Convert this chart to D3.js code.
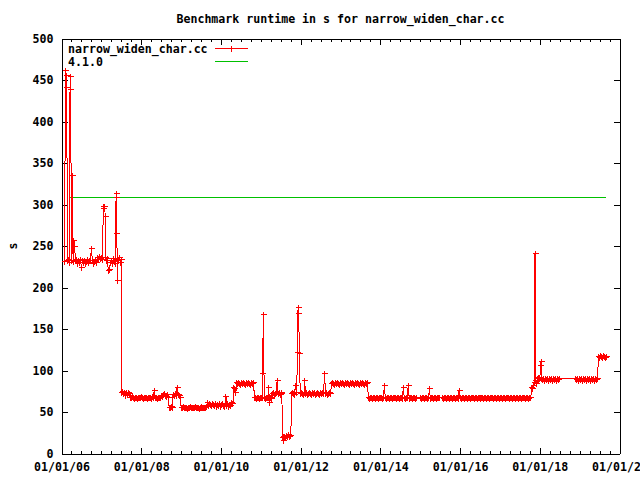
<!DOCTYPE html>
<html><head><meta charset="utf-8">
<script src="https://cdn.jsdelivr.net/npm/d3@7"></script>
<style>
html,body{margin:0;padding:0;background:#fff;}
svg{display:block;background:#fff;}
text{font-family:"DejaVu Sans Mono",monospace;font-weight:bold;font-size:11.6px;fill:#000;}
</style></head><body>
<svg id="chart" width="640" height="480"></svg>
<script>
const title = "Benchmark runtime in s for narrow_widen_char.cc";
const seriesName = "narrow_widen_char.cc";
const refName = "4.1.0";
const yLabel = "s";
const xTickYears = [2006, 2008, 2010, 2012, 2014, 2016, 2018, 2020];
const yTicks = [0, 50, 100, 150, 200, 250, 300, 350, 400, 450, 500];

// sample dates (decimal years)
const years = [
 2006.075, 2006.100, 2006.115, 2006.130, 2006.150, 2006.175, 2006.200, 2006.215,
 2006.230, 2006.250, 2006.275, 2006.290, 2006.310, 2006.330, 2006.350, 2006.375,
 2006.400, 2006.425, 2006.450, 2006.475, 2006.500, 2006.525, 2006.550, 2006.575,
 2006.600, 2006.625, 2006.650, 2006.675, 2006.700, 2006.725, 2006.750, 2006.775,
 2006.800, 2006.825, 2006.850, 2006.875, 2006.900, 2006.925, 2006.950, 2006.975,
 2007.000, 2007.025, 2007.050, 2007.065, 2007.080, 2007.100, 2007.115, 2007.130,
 2007.150, 2007.175, 2007.200, 2007.225, 2007.250, 2007.275, 2007.300, 2007.325,
 2007.350, 2007.370, 2007.380, 2007.390, 2007.400, 2007.420, 2007.440, 2007.460,
 2007.480, 2007.500,
 2007.510, 2007.525, 2007.550, 2007.575, 2007.600, 2007.625, 2007.650, 2007.675,
 2007.700, 2007.725, 2007.750, 2007.775, 2007.800, 2007.825, 2007.850, 2007.875,
 2007.900, 2007.925, 2007.950, 2007.975, 2008.000, 2008.025, 2008.050, 2008.075,
 2008.100, 2008.125, 2008.150, 2008.175, 2008.200, 2008.225, 2008.250, 2008.275,
 2008.300, 2008.325, 2008.350, 2008.375, 2008.400, 2008.425, 2008.450, 2008.475,
 2008.500, 2008.525, 2008.550, 2008.575, 2008.600, 2008.625, 2008.650, 2008.675,
 2008.700, 2008.725, 2008.750, 2008.775, 2008.800, 2008.825, 2008.850, 2008.875,
 2008.900, 2008.925, 2008.950, 2008.975, 2009.000, 2009.025, 2009.050, 2009.075,
 2009.100, 2009.125, 2009.150, 2009.175, 2009.200, 2009.225, 2009.250, 2009.275,
 2009.300, 2009.325, 2009.350, 2009.375, 2009.400, 2009.425, 2009.450, 2009.475,
 2009.500, 2009.525, 2009.550, 2009.575, 2009.600, 2009.625, 2009.650, 2009.675,
 2009.700, 2009.725, 2009.750, 2009.775, 2009.800, 2009.825, 2009.850, 2009.875,
 2009.900, 2009.925, 2009.950, 2009.975, 2010.000, 2010.025, 2010.050, 2010.075,
 2010.100, 2010.125, 2010.150, 2010.175, 2010.200, 2010.225, 2010.250, 2010.275,
 2010.300, 2010.325, 2010.350, 2010.375,
 2010.400, 2010.425, 2010.450, 2010.475, 2010.500, 2010.525, 2010.550, 2010.575,
 2010.600, 2010.625, 2010.650, 2010.675, 2010.700, 2010.725, 2010.750, 2010.775,
 2010.800, 2010.820,
 2010.840, 2010.865, 2010.890, 2010.915, 2010.940, 2010.965, 2010.990, 2011.015,
 2011.035, 2011.050, 2011.060, 2011.070, 2011.085, 2011.110, 2011.135, 2011.160,
 2011.185, 2011.200, 2011.215, 2011.235, 2011.260, 2011.285, 2011.310, 2011.335,
 2011.360, 2011.385, 2011.410, 2011.435, 2011.460, 2011.485, 2011.510, 2011.530,
 2011.540, 2011.560, 2011.580, 2011.605, 2011.630, 2011.655, 2011.680, 2011.705,
 2011.730, 2011.755,
 2011.770, 2011.795, 2011.820, 2011.845, 2011.870, 2011.900, 2011.920, 2011.935,
 2011.950, 2011.970, 2011.990, 2012.015, 2012.040, 2012.065, 2012.090, 2012.100,
 2012.125, 2012.150, 2012.175, 2012.200, 2012.225, 2012.250, 2012.275, 2012.300,
 2012.325, 2012.350, 2012.375, 2012.400, 2012.425, 2012.450, 2012.475, 2012.500,
 2012.525, 2012.550, 2012.575, 2012.600, 2012.625, 2012.650, 2012.675, 2012.700,
 2012.725, 2012.750,
 2012.775, 2012.800, 2012.825, 2012.850, 2012.875, 2012.900, 2012.925, 2012.950,
 2012.975, 2013.000, 2013.025, 2013.050, 2013.075, 2013.100, 2013.125, 2013.150,
 2013.175, 2013.200, 2013.225, 2013.250, 2013.275, 2013.300, 2013.325, 2013.350,
 2013.375, 2013.400, 2013.425, 2013.450, 2013.475, 2013.500, 2013.525, 2013.550,
 2013.575, 2013.600, 2013.625, 2013.650, 2013.675,
 2013.700, 2013.725, 2013.750, 2013.775, 2013.800, 2013.825, 2013.850, 2013.875,
 2013.900, 2013.925, 2013.950, 2013.975, 2014.000, 2014.025, 2014.050, 2014.075,
 2014.100, 2014.125, 2014.150, 2014.175, 2014.200, 2014.225, 2014.250, 2014.275,
 2014.300, 2014.325, 2014.350, 2014.375, 2014.400, 2014.425, 2014.450, 2014.475,
 2014.500, 2014.525, 2014.550, 2014.575, 2014.600, 2014.625, 2014.650, 2014.675,
 2014.700, 2014.725, 2014.750, 2014.775, 2014.800, 2014.825, 2014.850, 2014.875,
 2014.900,
 2015.010, 2015.035, 2015.060, 2015.085, 2015.110, 2015.135, 2015.160, 2015.185,
 2015.210, 2015.230, 2015.255, 2015.280, 2015.305, 2015.330, 2015.355, 2015.380,
 2015.405, 2015.430, 2015.455, 2015.480,
 2015.550, 2015.575, 2015.600, 2015.625, 2015.650, 2015.675, 2015.700, 2015.725,
 2015.750, 2015.775, 2015.800, 2015.825, 2015.850, 2015.875, 2015.900, 2015.925,
 2015.950, 2015.975, 2016.000, 2016.025, 2016.050, 2016.075, 2016.100, 2016.125,
 2016.150, 2016.175, 2016.200, 2016.225, 2016.250, 2016.275, 2016.300, 2016.325,
 2016.350, 2016.375, 2016.400, 2016.425, 2016.450, 2016.475, 2016.500, 2016.525,
 2016.550, 2016.575, 2016.600, 2016.625, 2016.650, 2016.675, 2016.700, 2016.725,
 2016.750, 2016.775, 2016.800, 2016.825, 2016.850, 2016.875, 2016.900, 2016.925,
 2016.950, 2016.975, 2017.000, 2017.025, 2017.050, 2017.075, 2017.100, 2017.125,
 2017.150, 2017.175, 2017.200, 2017.225, 2017.250, 2017.275, 2017.300, 2017.325,
 2017.350, 2017.375, 2017.400, 2017.425, 2017.450, 2017.475, 2017.500, 2017.525,
 2017.550, 2017.575, 2017.600, 2017.625, 2017.650, 2017.675, 2017.700, 2017.725,
 2017.750, 2017.775,
 2017.800, 2017.820, 2017.840, 2017.860, 2017.880, 2017.900, 2017.920, 2017.940,
 2017.960, 2017.980, 2018.000, 2018.020, 2018.035, 2018.050, 2018.075, 2018.100,
 2018.125, 2018.150, 2018.175, 2018.200, 2018.225, 2018.250, 2018.275, 2018.300,
 2018.325, 2018.350, 2018.375, 2018.400, 2018.425, 2018.450, 2018.475, 2018.500,
 2018.900, 2018.925, 2018.950, 2018.975, 2019.000, 2019.025, 2019.050, 2019.075,
 2019.100, 2019.125, 2019.150, 2019.175, 2019.200, 2019.225, 2019.250, 2019.275,
 2019.300, 2019.325, 2019.350, 2019.375, 2019.400, 2019.425, 2019.450, 2019.470,
 2019.495, 2019.520, 2019.545, 2019.570, 2019.595, 2019.620, 2019.645, 2019.670
];
// runtime in seconds (same order as years)
const runtime = [
 231, 461, 456, 441, 232, 234, 230, 454,
 439, 233, 335, 231, 257, 250, 232, 234,
 229, 233, 230, 234, 224, 232, 230, 233,
 229, 231, 234, 230, 232, 233, 247, 232,
 229, 231, 234, 230, 236, 234, 237, 235,
 236, 234, 297, 295, 298, 285, 236, 233,
 235, 220, 222, 230, 233, 229, 235, 231,
 229, 313, 309, 265, 208, 234, 232, 236,
 230, 234,
 73, 75, 72, 74, 70, 73, 71, 74,
 72, 68, 67, 69, 68, 66, 67, 68,
 66, 67, 68, 67, 69, 67, 66, 68,
 67, 68, 66, 67, 68, 67, 66, 69,
 67, 76, 67, 68, 66, 67, 68, 67,
 70, 69, 71, 72, 70, 69, 71, 68,
 56, 55, 57, 56, 71, 70, 72, 70,
 80, 71, 70, 68, 56, 55, 57, 56,
 55, 56, 54, 56, 55, 57, 56, 55,
 56, 55, 57, 56, 55, 56, 54, 56,
 55, 57, 56, 55, 56, 55, 57, 62,
 58, 60, 59, 58, 60, 59, 58, 60,
 57, 59, 58, 60, 57, 59, 60, 58,
 57, 69, 58, 60, 57, 59, 58, 62,
 60, 80, 78, 73,
 85, 84, 85, 84, 83, 85, 84, 85,
 84, 83, 85, 84, 85, 84, 83, 85,
 84, 85,
 67, 68, 66, 67, 68, 66, 67, 68,
 67, 96, 168, 167, 67, 66, 67, 68,
 67, 80, 61, 67, 66, 72, 73, 71,
 72, 73, 88, 72, 73, 71, 72, 73,
 19, 16, 20, 21, 19, 22, 20, 23,
 21, 22,
 72, 73, 72, 71, 82, 73, 122, 176,
 169, 120, 72, 73, 72, 71, 73, 88,
 72, 73, 71, 72, 73, 72, 71, 73,
 72, 73, 71, 72, 73, 72, 71, 73,
 72, 73, 72, 96, 72, 73, 71, 72,
 73, 72,
 84, 85, 84, 83, 85, 84, 85, 84,
 83, 85, 84, 85, 84, 83, 85, 84,
 85, 84, 83, 85, 84, 85, 84, 83,
 85, 84, 85, 84, 83, 85, 84, 85,
 84, 83, 85, 84, 85,
 67, 66, 68, 67, 66, 67, 68, 66,
 67, 68, 66, 67, 68, 67, 66, 67,
 82, 67, 66, 68, 67, 66, 67, 68,
 66, 67, 68, 67, 66, 67, 68, 66,
 67, 68, 66, 79, 67, 66, 68, 67,
 82, 66, 67, 68, 66, 67, 68, 66,
 67,
 67, 66, 68, 67, 66, 67, 68, 66,
 67, 78, 66, 67, 68, 66, 67, 68,
 66, 67, 68, 67,
 67, 66, 68, 67, 66, 67, 68, 66,
 67, 68, 66, 67, 68, 66, 67, 68,
 66, 76, 67, 66, 68, 67, 66, 67,
 68, 66, 67, 68, 66, 67, 68, 67,
 66, 67, 68, 66, 67, 68, 66, 67,
 68, 67, 66, 67, 68, 66, 67, 68,
 66, 67, 68, 67, 66, 67, 68, 66,
 67, 68, 66, 67, 68, 66, 67, 68,
 66, 67, 68, 67, 66, 67, 68, 66,
 67, 68, 66, 67, 68, 66, 67, 68,
 66, 67, 68, 67, 66, 67, 68, 66,
 67, 68,
 80, 78, 82, 85, 241, 88, 84, 90,
 88, 92, 90, 106, 111, 90, 89, 90,
 88, 90, 89, 90, 88, 90, 89, 90,
 88, 90, 89, 90, 88, 90, 89, 90,
 90, 89, 90, 88, 90, 89, 90, 88,
 90, 89, 90, 88, 90, 89, 90, 88,
 90, 89, 90, 88, 90, 89, 90, 117,
 116, 118, 117, 116, 118, 117, 116, 117
];
const refYears = [2006.18, 2019.66];
const refRuntime = [308.4, 308.4];

const seriesColor = "#ff0000";
const refColor = "#00c000";

if (years.length !== runtime.length) console.error("length mismatch", years.length, runtime.length);

const svg = d3.select("#chart");
svg.append("rect").attr("width", 640).attr("height", 480).attr("fill", "#fff");

const x = d3.scaleLinear().domain([2006, 2020]).range([61.5, 619.5]);
const y = d3.scaleLinear().domain([0, 500]).range([453.5, 38.5]);

const fmt = v => "01/01/" + String(v % 100).padStart(2, "0");
const minorX = d3.range(2006, 2020.001, 0.25).filter(v => Math.abs(v / 2 - Math.round(v / 2)) > 1e-6);

function styleAxis(g) {
  g.attr("font-family", null).attr("font-size", null).attr("color", "#000");
  g.selectAll("line,path").attr("shape-rendering", "crispEdges");
}

// bottom
svg.append("g").attr("transform", `translate(0,${y(0)})`)
  .call(d3.axisBottom(x).tickValues(xTickYears).tickFormat(fmt).tickSize(-6).tickSizeOuter(0).tickPadding(9))
  .call(styleAxis);
svg.append("g").attr("transform", `translate(0,${y(0)})`)
  .call(d3.axisBottom(x).tickValues(minorX).tickFormat("").tickSize(-3).tickSizeOuter(0))
  .call(styleAxis);
// top
svg.append("g").attr("transform", `translate(0,${y(500)})`)
  .call(d3.axisTop(x).tickValues(xTickYears).tickFormat("").tickSize(-6).tickSizeOuter(0))
  .call(styleAxis);
svg.append("g").attr("transform", `translate(0,${y(500)})`)
  .call(d3.axisTop(x).tickValues(minorX).tickFormat("").tickSize(-3).tickSizeOuter(0))
  .call(styleAxis);
// left
svg.append("g").attr("transform", `translate(${x(2006)},0)`)
  .call(d3.axisLeft(y).tickValues(yTicks).tickSize(-6).tickSizeOuter(0).tickPadding(8))
  .call(styleAxis);
// right
svg.append("g").attr("transform", `translate(${x(2020)},0)`)
  .call(d3.axisRight(y).tickValues(yTicks).tickFormat("").tickSize(-6).tickSizeOuter(0))
  .call(styleAxis);

// title and axis label
svg.append("text").attr("x", (x(2006) + x(2020)) / 2).attr("y", 23)
  .attr("text-anchor", "middle").text(title);
svg.append("text").attr("transform", `translate(17,${(y(0) + y(500)) / 2}) rotate(-90)`)
  .attr("text-anchor", "middle").text(yLabel);

const plot = svg.append("g");
const data = d3.zip(years, runtime);
const refData = d3.zip(refYears, refRuntime);
const line = d3.line().x(d => x(d[0])).y(d => y(d[1]));

plot.append("path").datum(refData).attr("d", line)
  .attr("fill", "none").attr("stroke", refColor).attr("stroke-width", 1)
  .attr("shape-rendering", "crispEdges");

plot.append("path").datum(data).attr("d", line)
  .attr("fill", "none").attr("stroke", seriesColor).attr("stroke-width", 1)
  .attr("shape-rendering", "crispEdges");

plot.selectAll("path.pt").data(data).join("path").attr("class", "pt")
  .attr("transform", d => `translate(${Math.round(x(d[0]) - 0.5) + 0.5},${Math.round(y(d[1]) - 0.5) + 0.5})`)
  .attr("d", "M-3,0H3M0,-3V3")
  .attr("fill", "none").attr("stroke", seriesColor).attr("stroke-width", 1)
  .attr("shape-rendering", "crispEdges");

// legend
const leg = svg.append("g");
leg.append("text").attr("x", 68).attr("y", 53).text(seriesName);
leg.append("line").attr("x1", 215).attr("x2", 248).attr("y1", 48.5).attr("y2", 48.5)
  .attr("stroke", seriesColor).attr("shape-rendering", "crispEdges");
leg.append("path").attr("transform", "translate(231.5,48.5)").attr("d", "M-3,0H3M0,-3V3")
  .attr("stroke", seriesColor).attr("fill", "none").attr("shape-rendering", "crispEdges");
leg.append("text").attr("x", 68).attr("y", 66).text(refName);
leg.append("line").attr("x1", 215).attr("x2", 248).attr("y1", 61.5).attr("y2", 61.5)
  .attr("stroke", refColor).attr("shape-rendering", "crispEdges");
</script>
</body></html>
